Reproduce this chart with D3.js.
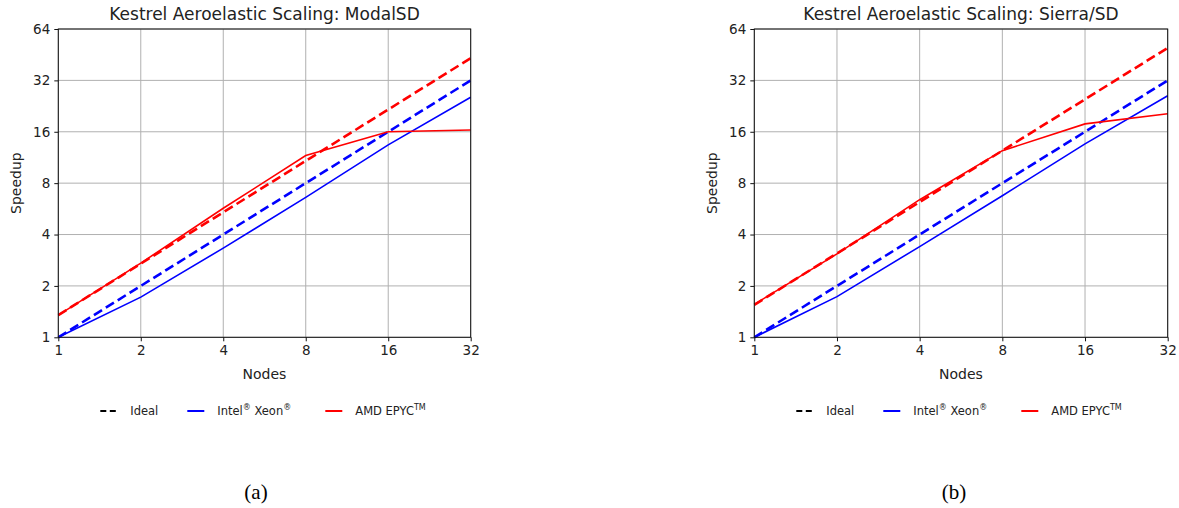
<!DOCTYPE html>
<html>
<head>
<meta charset="utf-8">
<script src="https://cdn.jsdelivr.net/npm/d3@7"></script>
<style>
  body { margin: 0; background: #fff; }
  text { font-family: "DejaVu Sans", sans-serif; fill: #222; }
</style>
</head>
<body>
<svg id="fig" width="1179" height="508"></svg>
<script>
// nodes and ticks
var nodes = [1, 2, 4, 8, 16, 32];
var yTicks = [1, 2, 4, 8, 16, 32, 64];

// ModalSD panel
var modalIdeal = [1, 2, 4, 8, 16, 32];
var modalAmdIdeal = [1.35, 2.7, 5.4, 10.8, 21.6, 43.2];
var modalIntel = [1, 1.72, 3.33, 6.6, 13.4, 25.5];
var modalAmd = [1.35, 2.72, 5.7, 11.6, 16.0, 16.4];

// Sierra/SD panel
var sierraIdeal = [1, 2, 4, 8, 16, 32];
var sierraAmdIdeal = [1.55, 3.1, 6.2, 12.4, 24.8, 49.6];
var sierraIntel = [1, 1.73, 3.4, 6.75, 13.6, 26];
var sierraAmd = [1.56, 3.08, 6.4, 12.4, 17.8, 20.4];

var svg = d3.select("#fig");

function drawPanel(left, right, title, series, caption) {
    var top = 29, bottom = 337.3;

    var x = d3.scaleLog().base(2).domain([1, 32]).range([left, right]);
    var y = d3.scaleLog().base(2).domain([1, 64]).range([bottom, top]);

    var g = svg.append("g");

    // grid
    g.append("g").selectAll("line").data(nodes).enter().append("line")
        .attr("x1", d => x(d)).attr("x2", d => x(d))
        .attr("y1", top).attr("y2", bottom)
        .style("stroke", "#b0b0b0").style("stroke-width", 1);
    g.append("g").selectAll("line").data(yTicks).enter().append("line")
        .attr("x1", left).attr("x2", right)
        .attr("y1", d => y(d)).attr("y2", d => y(d))
        .style("stroke", "#b0b0b0").style("stroke-width", 1);

    var line = d3.line()
        .x(function(d, i) { return x(nodes[i]); })
        .y(function(d) { return y(d); });

    series.forEach(function(s) {
        g.append("path")
            .attr("d", line(s.values))
            .style("fill", "none")
            .style("stroke", s.color)
            .style("stroke-width", s.dashed ? 2.6 : 1.6)
            .style("stroke-dasharray", s.dashed ? "9.5,4.5" : null);
    });

    // frame
    g.append("rect")
        .attr("x", left).attr("y", top)
        .attr("width", right - left).attr("height", bottom - top)
        .style("fill", "none").style("stroke", "#111").style("stroke-width", 1);

    var xAxis = d3.axisBottom(x).tickValues(nodes).tickFormat(d3.format("d"))
        .tickSize(4).tickPadding(4);
    var yAxis = d3.axisLeft(y).tickValues(yTicks).tickFormat(d3.format("d"))
        .tickSize(4).tickPadding(4);

    var gx = g.append("g").attr("transform", "translate(0," + bottom + ")").call(xAxis);
    var gy = g.append("g").attr("transform", "translate(" + left + ",0)").call(yAxis);
    [gx, gy].forEach(function(a) {
        a.select(".domain").remove();
        a.selectAll("text").style("font-family", "DejaVu Sans").style("font-size", "13.5px").style("fill", "#222");
        a.selectAll(".tick line").style("stroke", "#111");
    });

    // title and labels
    g.append("text")
        .attr("x", (left + right) / 2).attr("y", 20)
        .attr("text-anchor", "middle")
        .style("font-size", "17px")
        .text(title);
    g.append("text")
        .attr("x", (left + right) / 2).attr("y", 379)
        .attr("text-anchor", "middle")
        .style("font-size", "14px")
        .text("Nodes");
    g.append("text")
        .attr("transform", "translate(" + (left - 37) + "," + ((top + bottom) / 2) + ") rotate(-90)")
        .attr("text-anchor", "middle")
        .style("font-size", "14px")
        .text("Speedup");

    // legend
    var lg = g.append("g").attr("transform", "translate(" + (left + 42) + ",411)");
    var items = [
        {label: "Ideal", color: "#000", dashed: true, dx: 0},
        {label: "Intel", sup: "®", label2: " Xeon", sup2: "®", color: "blue", dx: 87},
        {label: "AMD EPYC", sup: "TM", color: "red", dx: 225}
    ];
    items.forEach(function(it) {
        var ig = lg.append("g").attr("transform", "translate(" + it.dx + ",0)");
        ig.append("line")
            .attr("x1", 0).attr("x2", 17).attr("y1", 0).attr("y2", 0)
            .style("stroke", it.color)
            .style("stroke-width", 2)
            .style("stroke-dasharray", it.dashed ? "6,3.5" : null);
        var t = ig.append("text").attr("x", 30).attr("y", 4).style("font-size", "11.5px");
        t.append("tspan").text(it.label);
        if (it.sup) t.append("tspan").attr("dy", -5).style("font-size", "8px").text(it.sup);
        if (it.label2) t.append("tspan").attr("dy", 5).text(it.label2);
        if (it.sup2) t.append("tspan").attr("dy", -5).style("font-size", "8px").text(it.sup2);
    });

    // caption
    svg.append("text")
        .attr("x", caption.x).attr("y", 499)
        .attr("text-anchor", "middle")
        .style("font-family", "'Liberation Serif', 'DejaVu Serif', serif")
        .style("font-size", "21px")
        .style("fill", "#000")
        .text(caption.text);
}

drawPanel(58.3, 470.7, "Kestrel Aeroelastic Scaling: ModalSD", [
    {values: modalIdeal, color: "blue", dashed: true},
    {values: modalAmdIdeal, color: "red", dashed: true},
    {values: modalIntel, color: "blue"},
    {values: modalAmd, color: "red"}
], {x: 256, text: "(a)"});

drawPanel(754.3, 1167.7, "Kestrel Aeroelastic Scaling: Sierra/SD", [
    {values: sierraIdeal, color: "blue", dashed: true},
    {values: sierraAmdIdeal, color: "red", dashed: true},
    {values: sierraIntel, color: "blue"},
    {values: sierraAmd, color: "red"}
], {x: 954, text: "(b)"});
</script>
</body>
</html>
